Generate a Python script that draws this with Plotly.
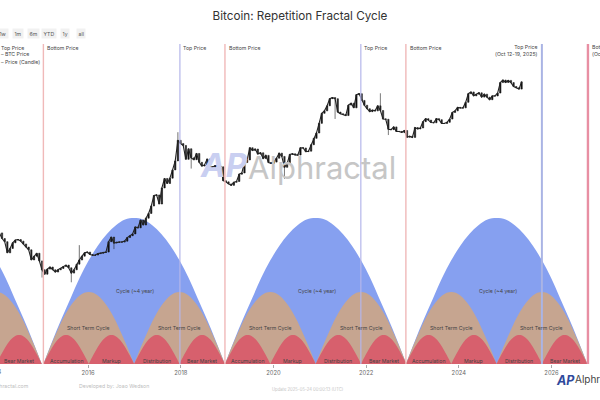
import pandas as pd
import plotly.graph_objects as go

# btc close, one value every 21 days from the start date
price_start = "2014-02-01"
btc_close = [
    745, 620, 560, 390, 450, 540, 590, 600, 570, 520, 470, 430, 310, 350, 385, 300,
    225, 195, 230, 246, 225, 209, 225, 235, 250, 262, 240, 202, 225, 270, 309, 350, 390, 400,
    370, 360, 363, 380, 385, 395, 400, 560, 650, 536, 550, 553, 553, 570, 640, 680, 720,
    901, 878, 1130, 961, 1200, 1400, 1780, 2500, 2550, 1900, 3200, 4350, 3700, 4400, 5750, 7700, 15000, 13500,
    12700, 8100, 11400, 8500, 8000, 9800, 7350, 6500, 6750, 8200, 6400, 6250, 6600, 6500, 6350, 4050, 3900,
    3650, 3480, 3850, 3950, 5000, 5200, 7300, 7950, 11800, 10800, 11300, 9600, 10000, 8300, 9200, 7300, 7100,
    7400, 8400, 9900, 8900, 6250, 7050, 9500, 9700, 9350, 9300, 11800, 11700, 10400, 10550, 13000, 16000, 19000, 26000,
    36000, 39000, 46000, 58000, 60000, 57800, 37500, 35500, 34700, 33500, 47000, 50000, 43000, 66000, 68000, 54700, 46800,
    41800, 38000, 40000, 39000, 46000, 39500, 30000, 29700, 21500, 21200, 23200, 20000, 20000, 19400, 20600, 16600, 17100, 16500,
    22700, 21700, 22400, 27500, 30300, 28900, 26800, 26500, 30300, 29300, 26000, 25900, 26900, 29900, 37000, 39000, 43700,
    42800, 43000, 51500, 68000, 72000, 63500, 67000, 70000, 60900, 67000, 60800, 56000, 63300, 63200, 69500, 97700, 106000,
    98000, 104800, 97500, 86000, 82500, 79000, 100000,
]

# long wicks that stick out of the line, keyed by position in btc_close
wick_low = {16: 175, 27: 150, 43: 440, 72: 6000, 107: 4300, 126: 30000, 146: 17800}
wick_high = {30: 500, 67: 19500, 143: 69000}

top_dates = ["2017-12-25", "2021-11-20", "2025-10-17"]
bottom_dates = ["2015-01-14", "2018-12-15", "2022-11-10", "2026-10-15"]
cycle_starts = ["2011-02-01", "2015-01-14", "2018-12-15", "2022-11-10"]

# one arch (share of width, share of height)
arch_pos = [0, .05, .1, .15, .2, .25, .3, .35, .4, .45, .5, .55, .6, .65, .7, .75, .8, .85, .9, .95, 1]
arch_height = [0, .16, .31, .45, .59, .71, .81, .89, .95, .99, 1, .99, .95, .89, .81, .71, .59, .45, .31, .16, 0]

cycle_height = 146
short_height = 72
phase_height = 29
phase_names = ["Accumulation", "Markup", "Distribution", "Bear Market"]

BLUE = "#86a0f0"
BROWN = "#c6a590"
RED = "#d7606d"

dates = pd.date_range(price_start, periods=len(btc_close), freq="21D")
open_vals = [btc_close[0]] + btc_close[:-1]
high_vals = [wick_high.get(i, max(a, b)) for i, (a, b) in enumerate(zip(open_vals, btc_close))]
low_vals = [wick_low.get(i, min(a, b)) for i, (a, b) in enumerate(zip(open_vals, btc_close))]


def arch_trace(start, end, height, color):
    xs = [start + (end - start) * p for p in arch_pos]
    ys = [h * height for h in arch_height]
    return go.Scatter(x=xs, y=ys, mode="lines", fill="tozeroy", fillcolor=color,
                      line=dict(color=color, width=0, shape="spline"),
                      showlegend=False, hoverinfo="skip", yaxis="y")


fig = go.Figure()
notes = []


def note(text, x, y, size=5.2, color="#444", anchor="center", xref="x", yref="paper", **kw):
    notes.append(dict(text=text, x=x, y=y, xref=xref, yref=yref, showarrow=False, xanchor=anchor,
                      yanchor="middle", font=dict(size=size, color=color), **kw))


def paper_x(px):
    return px / 600


def paper_y(px):
    # plot area is 44..364 of the 400 px page
    return (364 - px) / 320


starts = [pd.Timestamp(d) for d in cycle_starts]
for s in starts:
    e = s + pd.Timedelta(days=1430)
    fig.add_trace(arch_trace(s, e, cycle_height, BLUE))
    note("Cycle (~4 year)", s + (e - s) * 0.505, paper_y(291))
for s in starts:
    e = s + pd.Timedelta(days=1430)
    mid = s + (e - s) / 2
    for a, b in [(s, mid), (mid, e)]:
        fig.add_trace(arch_trace(a, b, short_height, BROWN))
        note("Short Term Cycle", a + (b - a) / 2, paper_y(328))
for s in starts:
    e = s + pd.Timedelta(days=1430)
    quarter = (e - s) / 4
    for i, name in enumerate(phase_names):
        a = s + quarter * i
        b = a + quarter
        fig.add_trace(arch_trace(a, b, phase_height, RED))
        note(name, a + (b - a) / 2, paper_y(360.5))

fig.add_trace(go.Scatter(x=dates, y=btc_close, mode="lines", name="BTC Price",
                         line=dict(color="#222222", width=1.1), yaxis="y2", showlegend=False))
fig.add_trace(go.Candlestick(x=dates, open=open_vals, close=btc_close, high=high_vals, low=low_vals,
                             name="Price (Candle)", yaxis="y2", showlegend=False, whiskerwidth=0,
                             increasing=dict(line=dict(color="#111111", width=0.6), fillcolor="#111111"),
                             decreasing=dict(line=dict(color="#222222", width=0.6), fillcolor="#222222")))

shapes = []
for i, d in enumerate(top_dates):
    last = i == len(top_dates) - 1
    shapes.append(dict(type="line", x0=d, x1=d, yref="paper", y0=0, y1=1,
                       line=dict(color="#aab4e4" if last else "#b4b6ea", width=2 if last else 1.2)))
for i, d in enumerate(bottom_dates):
    last = i == len(bottom_dates) - 1
    shapes.append(dict(type="line", x0=d, x1=d, yref="paper", y0=0, y1=1,
                       line=dict(color="#e88fa3" if last else "#f0b9b9", width=2.4 if last else 1.4)))

# line labels
note("Top Price", paper_x(-1), paper_y(48), anchor="left", xref="paper")
for px in [45, 227, 408]:
    note("Bottom Price", paper_x(px), paper_y(48), anchor="left", xref="paper")
for px in [181, 362]:
    note("Top Price", paper_x(px), paper_y(48), anchor="left", xref="paper")
note("Top Price<br>(Oct 12-19, 2025)", paper_x(540), paper_y(51), anchor="right", xref="paper", align="right")
note("Bottom Price<br>(Oct 5-12, 2026)", paper_x(590), paper_y(51), anchor="left", xref="paper", align="left")

# zoom buttons and legend drawn as text, both too small for the real widgets
btn_labels = ["1w", "1m", "6m", "YTD", "1y", "all"]
btn_pos = [3, 18, 33, 49, 65, 81]
for lab, px in zip(btn_labels, btn_pos):
    note(lab, paper_x(px), paper_y(33.5), size=5.2, color="#555", xref="paper",
         bgcolor="#f1f1f1", borderpad=1.5)
note("– BTC Price", paper_x(-1), paper_y(54), anchor="left", xref="paper")
note("– Price (Candle)", paper_x(-1), paper_y(62), anchor="left", xref="paper")

note("2014", paper_x(-4.7), paper_y(371), size=5.8, color="#666", xref="paper")

# footer
note("alphractal.com", paper_x(31), paper_y(386), color="#bdbdbd", anchor="right", xref="paper")
note("Developed by: Joao Wedson", paper_x(77), paper_y(386), color="#bdbdbd", anchor="left", xref="paper")
note("Update 2025-05-24 00:00:13 (UTC)", paper_x(270), paper_y(389), size=4.2, color="#c4c4c4", anchor="left", xref="paper")

# logos
note("<b><i>AP</i></b>", paper_x(224), paper_y(165), size=33, color="#c9cff1", xref="paper")
note("Alphractal", paper_x(246), paper_y(167), size=31, color="#c6c6c6", anchor="left", xref="paper")
note("<b><i>AP</i></b>", paper_x(565), paper_y(380), size=12.5, color="#2f4a9c", xref="paper")
note("Alphractal", paper_x(573), paper_y(379), size=10, color="#444444", anchor="left", xref="paper")

fig.update_layout(
    width=600, height=400,
    margin=dict(l=0, r=0, t=44, b=36, autoexpand=False),
    paper_bgcolor="white", plot_bgcolor="white",
    font=dict(family="Inter, Roboto, sans-serif", color="#444"),
    title=dict(text="Bitcoin: Repetition Fractal Cycle", x=0.5, xanchor="center", y=0.96, yanchor="middle",
               font=dict(size=11.7, color="#333333")),
    xaxis=dict(range=["2014-02-06", "2027-01-18"], tick0="2016-01-01", dtick="M24", tickformat="%Y",
               showgrid=False, zeroline=False, rangeslider=dict(visible=False),
               ticks="outside", ticklen=3, tickcolor="#aaaaaa", tickfont=dict(size=5.8, color="#666666")),
    yaxis=dict(range=[0, 320], visible=False, showgrid=False, zeroline=False),
    yaxis2=dict(type="log", range=[1.025, 5.533], overlaying="y", visible=False, showgrid=False),
    showlegend=False,
    shapes=shapes,
    annotations=notes,
)

# browser's default body margin would push the whole chart 8px off
fig.write_html("out.html", post_script="document.body.style.margin='0';",
               config={"displayModeBar": False})
